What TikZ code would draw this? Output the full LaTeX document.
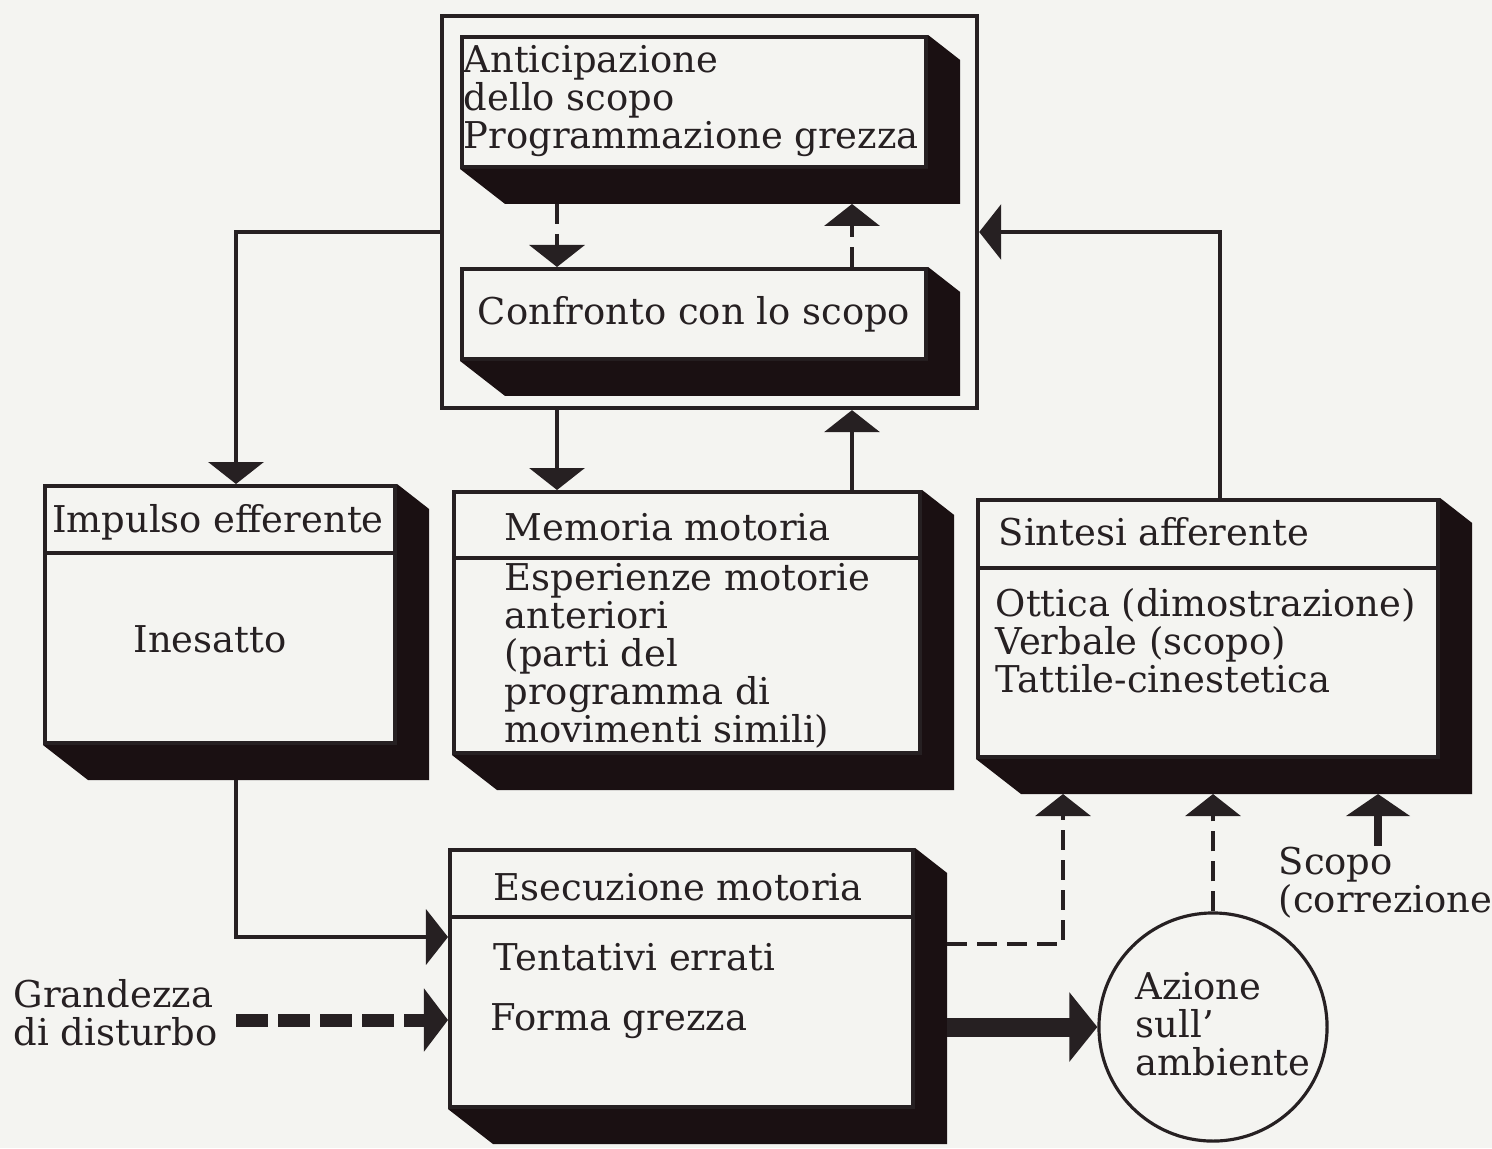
\documentclass[tikz,border=0pt]{standalone}
\usepackage{fontspec}
\setmainfont{DejaVu Serif}
\usetikzlibrary{arrows.meta,positioning,calc}
\definecolor{paper}{RGB}{244,244,241}
\definecolor{ink}{RGB}{38,32,34}
\definecolor{shd}{RGB}{26,16,18}
\newcommand{\lab}{\fontsize{10.5}{10.8}\selectfont}

\begin{document}
\begin{tikzpicture}[x=0.01cm,y=-0.01cm,
    box/.style={draw=ink,line width=1.1pt,anchor=north west,inner sep=0pt},
    conn/.style={draw=ink,line width=1.1pt,-{Triangle[width=0.55cm,length=0.22cm]}},
    dconn/.style={conn,dash pattern=on 0.2cm off 0.1cm},
    txt/.style={anchor=base west,inner sep=0pt,align=left,text=ink,font=\lab}]

    \useasboundingbox (0,0) rectangle (1492,1148);
    \fill[paper] (0,0) rectangle (1492,1148);

    % Top frame
    \node[box,minimum width=5.35cm,minimum height=3.92cm] (frame) at (440,14) {};
    \node[box,minimum width=4.64cm,minimum height=1.30cm] (antic) at (460,35) {};
    \node[box,minimum width=4.64cm,minimum height=0.90cm,text=ink,font=\lab] (confr) at (460,267) {Confronto con lo scopo};

    % Middle row
    \node[box,minimum width=3.50cm,minimum height=2.57cm] (impulso) at (43,484) {};
    \node[box,minimum width=4.66cm,minimum height=2.61cm] (memoria) at (452,490) {};
    \node[box,minimum width=4.60cm,minimum height=2.57cm] (sintesi) at (976,498) {};

    % Bottom row
    \node[box,minimum width=4.63cm,minimum height=2.57cm] (esec) at (448,848) {};
    \node[draw=ink,line width=0.9pt,circle,minimum size=2.28cm,inner sep=0pt] (azione) at (1213,1027) {};

    % Shadows and header lines
    \foreach \b in {antic,confr,impulso,memoria,sintesi,esec}{
        \fill[shd] (\b.north east) -- ++(32,25) |- ($(\b.south west)+(45,35)$) -- (\b.south west) -- (\b.south east) -- cycle;
        \coordinate (\b-sh) at ($(\b.south)+(0,35)$);
    }
    \foreach \b/\h in {impulso/69,memoria/68,sintesi/70,esec/69}
        \draw[ink,line width=1.1pt] ($(\b.north west)+(0,\h)$) -- ($(\b.north east)+(0,\h)$);

    % Texts (multi-line ones sit on their last line)
    \node[txt] (tantic) at (463,148) {Anticipazione\\dello scopo\\Programmazione grezza};
    \node[txt,anchor=base] (timp) at (218,532) {Impulso efferente};
    \node[txt,anchor=base] (tines) at (210,652) {Inesatto};
    \node[txt] (tmem) at (504,540) {Memoria motoria};
    \node[txt] (tmemb) at (504,742) {Esperienze motorie\\anteriori\\(parti del\\programma di\\movimenti simili)};
    \node[txt] (tsin) at (998,545) {Sintesi afferente};
    \node[txt] (tsinb) at (995,692) {Ottica (dimostrazione)\\Verbale (scopo)\\Tattile-cinestetica};
    \node[txt] (tese) at (493,900) {Esecuzione motoria};
    \node[txt] (tten) at (493,970) {Tentativi errati};
    \node[txt] (tfor) at (490,1030) {Forma grezza};
    \node[txt] (grand) at (13,1045) {Grandezza\\di disturbo};
    \node[txt] (tazi) at (1135,1075) {Azione\\sull'\\ambiente};
    \node[txt] (scopo) at (1278,912) {Scopo\\(correzione};

    % Connector levels
    \coordinate (xl) at (557,0);
    \coordinate (xr) at (852,0);
    \coordinate (xi) at (236,0);
    \coordinate (xs) at (1220,0);
    \coordinate (xd) at (1063,0);
    \coordinate (xc) at (1378,0);
    \coordinate (yf) at (0,232);
    \coordinate (ye) at (0,937);
    \coordinate (yd) at (0,944);
    \coordinate (yg) at (0,1020);

    % Arcs inside frame
    \draw[dconn] (antic-sh -| xl) -- (confr.north -| xl);
    \draw[dconn] (confr.north -| xr) -- (antic-sh -| xr);

    % Arcs between rows
    \draw[conn] (frame.west |- yf) -| (impulso.north -| xi);
    \draw[conn] (frame.south -| xl) -- (memoria.north -| xl);
    \draw[conn] (memoria.north -| xr) -- (frame.south -| xr);
    \draw[conn] (sintesi.north -| xs) |- (frame.east |- yf);
    \draw[conn] (impulso-sh -| xi) |- (esec.west |- ye);

    % Arcs to the environment
    \draw[dconn] ($(esec.east |- yd)+(32,0)$) -| (sintesi-sh -| xd);
    \draw[dconn] (azione.north) -- (sintesi-sh -| azione.north);
    \draw[conn,line width=0.08cm,-{Triangle[width=0.63cm,length=0.22cm]}] (scopo.north -| xc) -- (sintesi-sh -| xc);
    \draw[ink,line width=0.19cm,-{Triangle[width=0.68cm,length=0.28cm]}] ($(esec.east |- azione)+(32,0)$) -- (azione.west);
    \draw[ink,line width=0.13cm,dash pattern=on 0.32cm off 0.1cm,-{Triangle[width=0.62cm,length=0.24cm]}] ($(grand.east |- yg)+(18,0)$) -- (esec.west |- yg);
\end{tikzpicture}
\end{document}
